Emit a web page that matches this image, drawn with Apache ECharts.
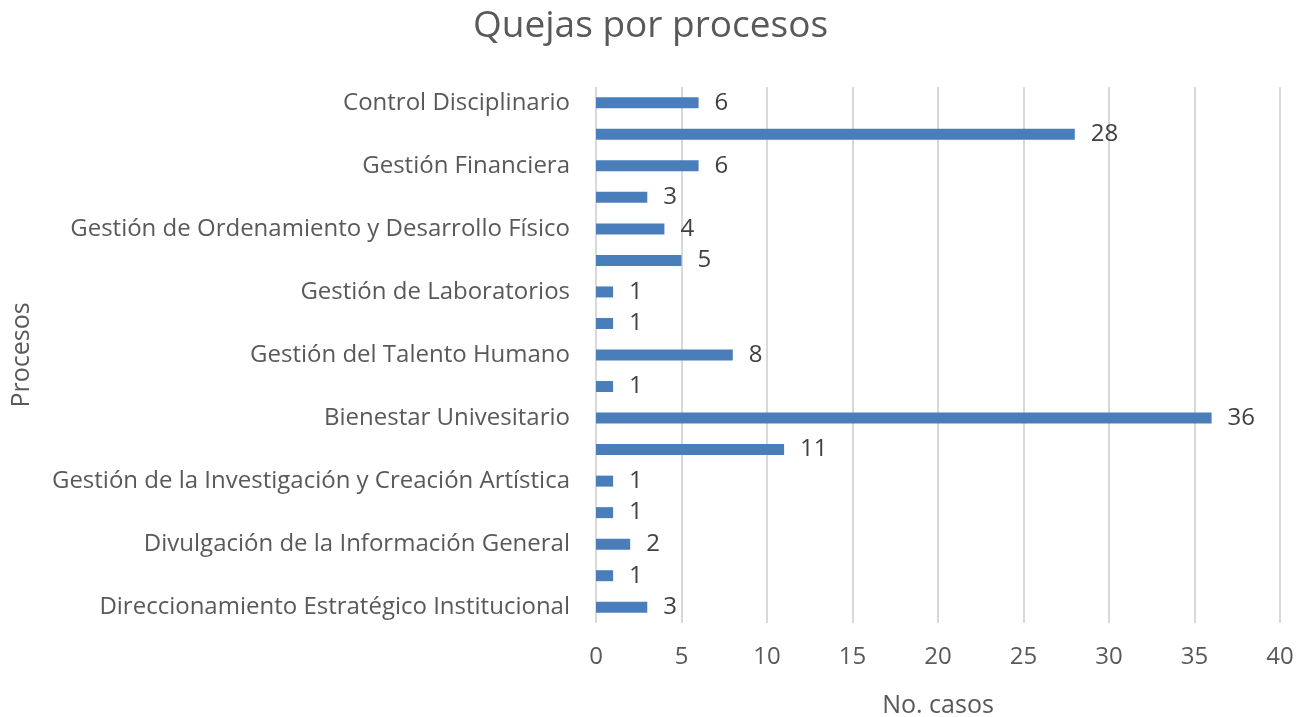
<!DOCTYPE html>
<html>
<head>
<meta charset="utf-8">
<script src="https://cdn.jsdelivr.net/npm/echarts@6/dist/echarts.min.js"></script>
<style>html,body{margin:0;padding:0;background:#fff}#c{width:1303px;height:717px}</style>
</head>
<body>
<div id="c"></div>
<script>
// bottom to top (ECharts category order); hidden labels are blank in the source
const categories = [
  'Direccionamiento Estratégico Institucional', '',
  'Divulgación de la Información General', '',
  'Gestión de la Investigación y Creación Artística', '',
  'Bienestar Univesitario', '',
  'Gestión del Talento Humano', '',
  'Gestión de Laboratorios', '',
  'Gestión de Ordenamiento y Desarrollo Físico', '',
  'Gestión Financiera', '',
  'Control Disciplinario'
];
const values = [3, 1, 2, 1, 1, 11, 36, 1, 8, 1, 1, 5, 4, 3, 6, 28, 6];
const xTicks = [0, 5, 10, 15, 20, 25, 30, 35, 40];

const chart = echarts.init(document.getElementById('c'));
const txt = '#595959';
const font = 'Open Sans';
chart.setOption({
  animation: false,
  title: {
    text: 'Quejas por procesos', left: 468, top: 3,
    textStyle: { fontFamily: font, fontSize: 37, fontWeight: 'normal', color: txt }
  },
  grid: { left: 596, right: 23, top: 87, bottom: 94, outerBoundsMode: 'none', containLabel: false },
  xAxis: {
    type: 'value', min: xTicks[0], max: xTicks[xTicks.length - 1], interval: 5,
    name: 'No. casos', nameLocation: 'middle', nameGap: 70,
    nameTextStyle: { fontFamily: font, fontSize: 25, color: txt },
    axisLine: { show: false }, axisTick: { show: false },
    axisLabel: { fontFamily: font, fontSize: 24, color: txt, margin: 22 },
    splitLine: { lineStyle: { color: '#d9d9d9', width: 2 } }
  },
  yAxis: {
    type: 'category', data: categories,
    name: 'Procesos', nameLocation: 'middle', nameGap: 562,
    nameTextStyle: { fontFamily: font, fontSize: 25, color: txt },
    axisLine: { show: false }, axisTick: { show: false },
    axisLabel: { interval: 0, fontFamily: font, fontSize: 24, color: txt, margin: 26 }
  },
  series: [{
    type: 'bar', data: values, barWidth: 11,
    itemStyle: { color: '#4a7ebb' },
    label: { show: true, position: 'right', distance: 16, fontFamily: font, fontSize: 24, color: '#404040' }
  }]
});
</script>
</body>
</html>
